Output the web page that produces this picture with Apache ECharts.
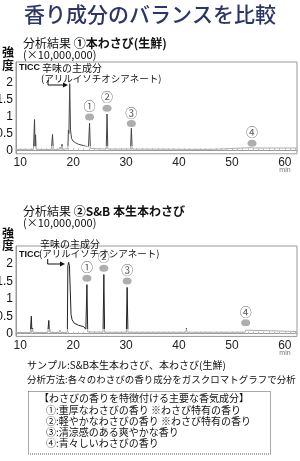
<!DOCTYPE html>
<html><head><meta charset="utf-8">
<script src="https://cdn.jsdelivr.net/npm/echarts@6/dist/echarts.min.js"></script>
<style>html,body{margin:0;padding:0;background:#fff}#c{width:300px;height:461px}</style>
</head><body><div id="c"></div>
<script>
// ---- data ----
const timeLabels = [10, 20, 30, 40, 50, 60];
const intensityLabels = [0, 0.5, 1, 1.5, 2];
const minuteTicks = [10,11,12,13,14,15,16,17,18,19,20,21,22,23,24,25,26,27,28,29,30,31,32,33,34,35,36,37,38,39,40,41,42,43,44,45,46,47,48,49,50,51,52,53,54,55,56,57,58,59,60,61,62];
const markerLabels = ['①', '②', '③', '④'];

// chart 1: 本わさび(生鮮)
const trace1Time = [9.2, 11.6, 11.8, 12.0, 12.5, 12.7, 12.8, 12.9, 13.0, 15.9, 16.1, 16.25, 17.4, 17.55, 17.7, 17.9, 18.05, 19.0, 19.1, 19.2, 19.35, 19.5, 19.7, 20.0, 20.5, 21.0, 22.0, 22.9, 23.1, 23.25, 24.5, 24.6, 24.7, 26.25, 26.4, 26.55, 30.85, 31.0, 31.15, 46.0, 46.1, 53.6, 53.8, 54.0, 62.3];
const trace1Intensity = [0.03, 0.03, 0.07, 0.03, 0.03, 0.91, 0.1, 0.46, 0.03, 0.03, 0.47, 0.03, 0.03, 0.1, 0.03, 0.18, 0.03, 0.05, 0.59, 0.5, 1.96, 0.6, 0.35, 0.27, 0.22, 0.18, 0.14, 0.1, 0.8, 0.06, 0.05, 0.1, 0.05, 0.04, 1.07, 0.04, 0.04, 0.65, 0.04, 0.03, 0.08, 0.08, 0.11, 0.07, 0.07];
const marker1Time = [23.1, 26.4, 31.0, 53.8];
const marker1Level = [0.98, 1.24, 0.79, 0.21];

// chart 2: S&B 本生本わさび
const trace2Time = [9.2, 11.9, 12.1, 12.2, 12.35, 12.45, 15.2, 15.4, 15.5, 15.6, 15.7, 17.3, 17.5, 17.6, 17.9, 18.0, 18.9, 19.0, 19.15, 19.3, 19.45, 19.6, 19.8, 20.2, 21.0, 22.0, 22.4, 22.6, 22.75, 25.65, 25.8, 25.95, 30.05, 30.2, 30.35, 41.3, 41.4, 41.5, 52.5, 52.6, 52.7, 62.3];
const trace2Intensity = [0.03, 0.03, 0.5, 0.05, 0.15, 0.03, 0.03, 0.38, 0.05, 0.12, 0.03, 0.03, 0.1, 0.03, 0.05, 0.03, 0.04, 1.95, 2.05, 1.95, 2.0, 0.55, 0.4, 0.3, 0.24, 0.2, 0.12, 1.41, 0.05, 0.04, 1.7, 0.04, 0.04, 1.33, 0.04, 0.04, 0.15, 0.04, 0.04, 0.1, 0.06, 0.06];
const marker2Time = [22.6, 25.8, 30.2, 52.6];
const marker2Level = [1.59, 1.88, 1.51, 0.31];

// ---- chart ----
const chart = echarts.init(document.getElementById('c'), null, {renderer: 'canvas'});
const zip = (a, b) => a.map((v, i) => [v, b[i]]);
const narrow = '"Liberation Sans Narrow", "Liberation Sans", sans-serif';
const jp = '"Noto Sans CJK JP", sans-serif';

function xAx(g) {
  return {
    gridIndex: g, type: 'value', min: 9.2, max: 62.3,
    axisLine: {show: true, lineStyle: {color: '#999', width: 1}},
    axisTick: {show: true, inside: true, length: 2, customValues: minuteTicks, lineStyle: {color: '#bbb'}},
    axisLabel: {customValues: timeLabels, color: '#222', fontFamily: narrow, fontSize: 12, margin: 3},
    splitLine: {show: false}
  };
}
function yAx(g, min, max) {
  return {
    gridIndex: g, type: 'value', min: min, max: max,
    axisLine: {show: true, lineStyle: {color: '#999', width: 1}},
    axisTick: {show: false},
    axisLabel: {customValues: intensityLabels, color: '#111', fontFamily: narrow, fontSize: 12, margin: 3},
    splitLine: {show: false}
  };
}
function markers(xi, times, levels) {
  return {
    type: 'scatter', xAxisIndex: xi, yAxisIndex: xi,
    data: zip(times, levels), symbol: 'circle', symbolSize: [9, 7],
    itemStyle: {color: '#9a9a9a'},
    label: {show: true, position: 'top', distance: 1, color: '#333', fontFamily: jp, fontSize: 12,
      formatter: p => markerLabels[p.dataIndex]},
    silent: true, z: 5
  };
}
function txt(x, y, text, font, fill, align) {
  return {type: 'text', x: x, y: y, silent: true,
    style: {text: text, font: font, fill: fill || '#111', textAlign: align || 'left', textVerticalAlign: 'middle'}};
}
function arrow(x0, y0, y1, x1) {
  return [
    {type: 'polyline', silent: true, shape: {points: [[x0, y0], [x0, y1], [x1 - 3, y1]]}, style: {stroke: '#111', lineWidth: 1, fill: null}},
    {type: 'polygon', silent: true, shape: {points: [[x1 - 5, y1 - 2.5], [x1, y1], [x1 - 5, y1 + 2.5]]}, style: {fill: '#111'}}
  ];
}

const graphics = [
  txt(150, 14, '香り成分のバランスを比較', '500 21px "Noto Sans CJK JP"', '#2c3566', 'center'),
  // chart 1 header
  {type: 'text', x: 23, y: 43, silent: true, style: {text: '{a|分析結果 }{b|①本わさび(生鮮)}', textVerticalAlign: 'middle',
    rich: {a: {font: '12px "Noto Sans CJK JP"', fill: '#111'}, b: {font: 'bold 12px "Noto Sans CJK JP"', fill: '#111'}}}},
  txt(23, 54.5, '(×10,000,000)', '11px "Noto Sans CJK JP"'),
  txt(2, 52, '強', 'bold 12px "Noto Sans CJK JP"'),
  txt(2, 65, '度', 'bold 12px "Noto Sans CJK JP"'),
  txt(19, 68, 'TICC', 'bold 9px "Liberation Sans"'),
  txt(42, 68, '辛味の主成分', '10px "Noto Sans CJK JP"'),
  txt(41, 78.5, '(アリルイソチオシアネート)', '9.5px "Noto Sans CJK JP"'),
  ...arrow(48, 80, 85, 68),
  txt(285, 170, 'min', '7px "Liberation Sans"', '#777', 'center'),
  // chart 2 header
  {type: 'text', x: 23, y: 211.5, silent: true, style: {text: '{a|分析結果 }{b|②S&B 本生本わさび}', textVerticalAlign: 'middle',
    rich: {a: {font: '12px "Noto Sans CJK JP"', fill: '#111'}, b: {font: 'bold 12px "Noto Sans CJK JP"', fill: '#111'}}}},
  txt(23, 222.5, '(×10,000,000)', '11px "Noto Sans CJK JP"'),
  txt(2, 233, '強', 'bold 12px "Noto Sans CJK JP"'),
  txt(2, 245, '度', 'bold 12px "Noto Sans CJK JP"'),
  txt(19, 255, 'TICC', 'bold 9px "Liberation Sans"'),
  txt(40, 244.5, '辛味の主成分', '10px "Noto Sans CJK JP"'),
  txt(39, 253.5, '(アリルイソチオシアネート)', '9.5px "Noto Sans CJK JP"'),
  ...arrow(47.7, 259, 264, 65),
  txt(285, 353, 'min', '7px "Liberation Sans"', '#777', 'center'),
  // footer
  txt(27, 365, 'サンプル:S&B本生本わさび、本わさび(生鮮)', '10px "Noto Sans CJK JP"'),
  txt(27, 379, '分析方法:各々のわさびの香り成分をガスクロマトグラフで分析', '9.5px "Noto Sans CJK JP"'),
  {type: 'rect', silent: true, shape: {x: 28.5, y: 391.5, width: 242, height: 62.5}, style: {fill: null, stroke: '#555', lineWidth: 1, lineDash: [1, 1]}},
  txt(39, 398.5, '【わさびの香りを特徴付ける主要な香気成分】', '10px "Noto Sans CJK JP"'),
  txt(46, 410, '①:重厚なわさびの香り ※わさび特有の香り', '10px "Noto Sans CJK JP"'),
  txt(46, 421, '②:軽やかなわさびの香り ※わさび特有の香り', '10px "Noto Sans CJK JP"'),
  txt(46, 432, '③:清涼感のある爽やかな香り', '10px "Noto Sans CJK JP"'),
  txt(46, 443, '④:青々しいわさびの香り', '10px "Noto Sans CJK JP"')
];

chart.setOption({
  animation: false,
  backgroundColor: '#fff',
  grid: [
    {left: 16, right: 3, top: 62, height: 91.8, outerBoundsMode: 'none', containLabel: false, show: true, borderColor: '#999', borderWidth: 1, backgroundColor: 'transparent'},
    {left: 16, right: 3, top: 246, height: 90.4, outerBoundsMode: 'none', containLabel: false, show: true, borderColor: '#999', borderWidth: 1, backgroundColor: 'transparent'}
  ],
  xAxis: [xAx(0), xAx(1)],
  yAxis: [yAx(0, -0.1, 2.6), yAx(1, -0.08, 2.52)],
  visualMap: [
    {type: 'piecewise', show: false, seriesIndex: 0, dimension: 1, pieces: [{min: -1, max: 0.12, color: '#aaa'}, {min: 0.12, max: 3, color: '#444'}]},
    {type: 'piecewise', show: false, seriesIndex: 2, dimension: 1, pieces: [{min: -1, max: 0.12, color: '#aaa'}, {min: 0.12, max: 3, color: '#222'}]}
  ],
  series: [
    {type: 'line', xAxisIndex: 0, yAxisIndex: 0, data: zip(trace1Time, trace1Intensity), showSymbol: false, lineStyle: {width: 1}, silent: true},
    markers(0, marker1Time, marker1Level),
    {type: 'line', xAxisIndex: 1, yAxisIndex: 1, data: zip(trace2Time, trace2Intensity), showSymbol: false, lineStyle: {width: 1}, silent: true},
    markers(1, marker2Time, marker2Level)
  ],
  graphic: graphics
});
</script></body></html>
